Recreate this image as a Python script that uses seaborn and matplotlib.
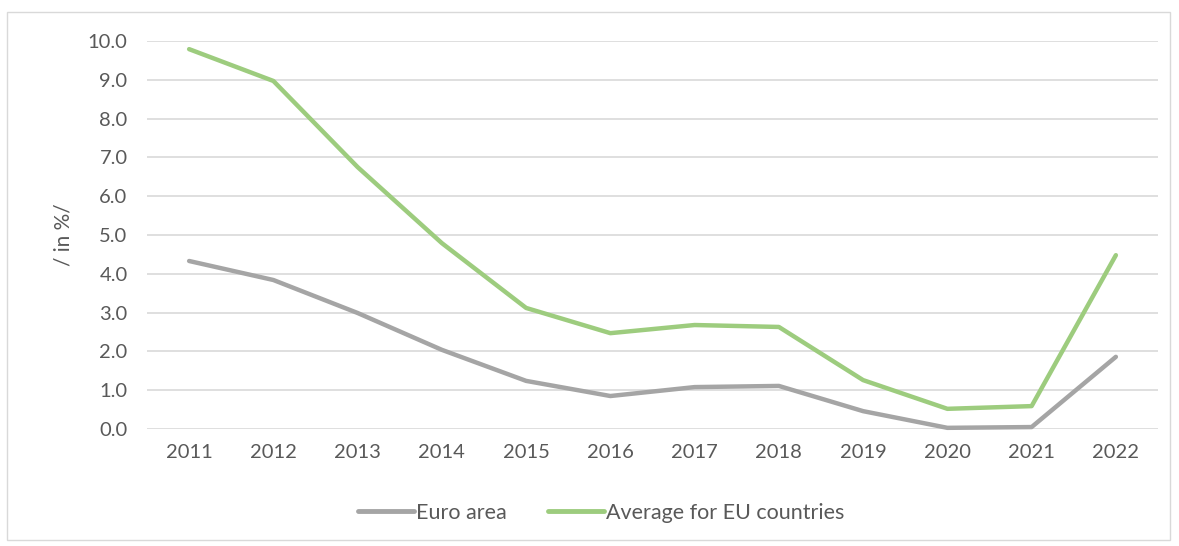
import matplotlib
matplotlib.use("Agg")
import matplotlib.pyplot as plt
import seaborn as sns
import pandas as pd
from matplotlib.patches import Rectangle

years = ["2011", "2012", "2013", "2014", "2015", "2016", "2017", "2018", "2019", "2020", "2021", "2022"]
euro_area = [4.33, 3.84, 2.99, 2.04, 1.24, 0.85, 1.08, 1.11, 0.46, 0.03, 0.05, 1.86]
eu_average = [9.79, 8.97, 6.75, 4.79, 3.12, 2.47, 2.68, 2.63, 1.26, 0.52, 0.59, 4.48]
series_names = ["Euro area", "Average for EU countries"]

df = pd.DataFrame({
    "year": years * 2,
    "value": euro_area + eu_average,
    "series": [series_names[0]] * len(years) + [series_names[1]] * len(years),
})

sns.set_style("white")
plt.rcParams["font.family"] = ["Lato", "DejaVu Sans"]
text_color = "#595959"

fig = plt.figure(figsize=(11.79, 5.46), dpi=100)
ax = fig.add_axes([147 / 1179, 1 - 429 / 546, (1158 - 147) / 1179, (429 - 41) / 546])

palette = {series_names[0]: "#A5A5A5", series_names[1]: "#9DCC7E"}
sns.lineplot(data=df, x="year", y="value", hue="series", palette=palette,
             linewidth=3.2, ax=ax, sort=False, legend=True)
for ln in ax.lines:
    ln.set_clip_on(False)
    ln.set_solid_capstyle("round")
    ln.set_solid_joinstyle("round")

ax.set_xlim(-0.5, len(years) - 0.5)
ax.set_ylim(0, 10)
ax.set_yticks([i for i in range(11)])
ax.set_yticklabels([f"{i:.1f}" for i in range(11)])
ax.yaxis.grid(True, color="#D9D9D9", linewidth=1.2)
ax.set_axisbelow(True)
for s in ax.spines.values():
    s.set_visible(False)
ax.tick_params(axis="both", length=0, labelsize=14.5, colors=text_color)
ax.tick_params(axis="y", pad=14)
ax.tick_params(axis="x", pad=11)
ax.set_xlabel("")
ax.set_ylabel("/ in %/", fontsize=15, color=text_color, labelpad=10)

leg = ax.legend(loc="upper center", bbox_to_anchor=(0.449, -0.14), ncol=2, frameon=False,
                fontsize=15.5, handlelength=2.6, handletextpad=0.1, columnspacing=1.9)
for t in leg.get_texts():
    t.set_color(text_color)
for h in leg.get_lines():
    h.set_linewidth(3.5)

fig.patches.append(Rectangle((7 / 1179, 1 - 540 / 546), (1170 - 7) / 1179, (540 - 12) / 546,
                             transform=fig.transFigure, fill=False, edgecolor="#D9D9D9", linewidth=1))

fig.savefig("out.png", dpi=100)
